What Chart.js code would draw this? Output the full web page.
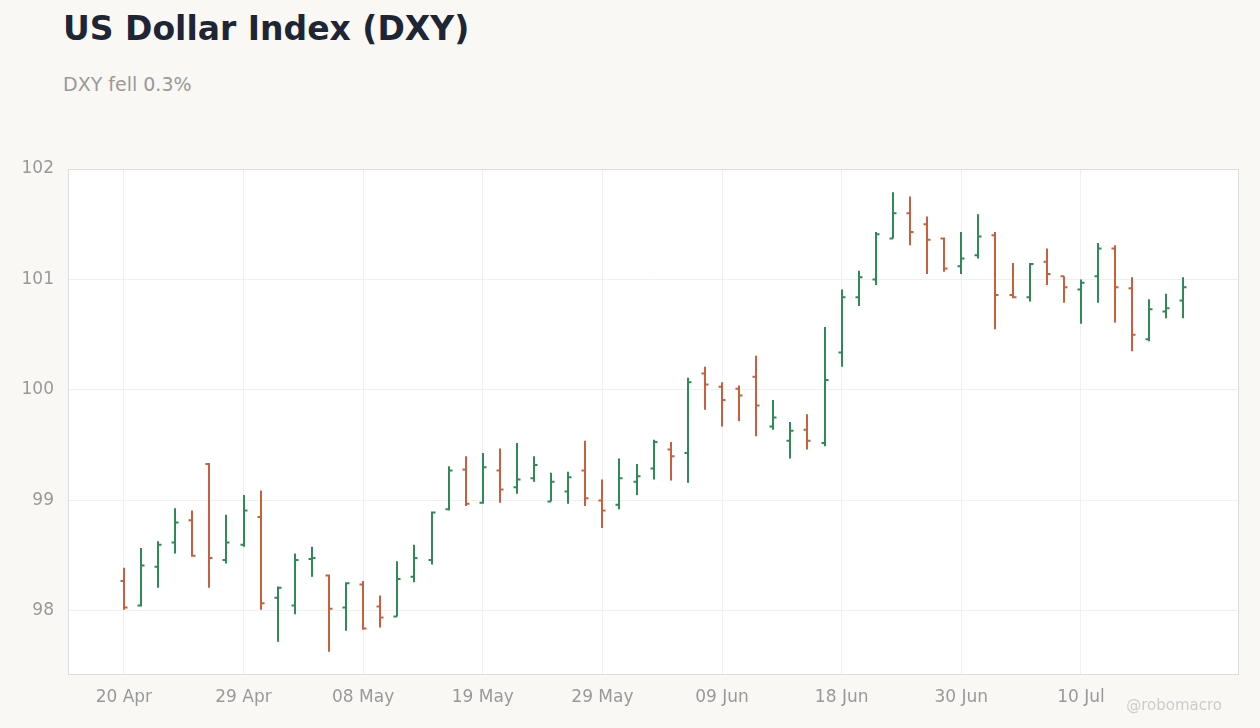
<!DOCTYPE html>
<html><head><meta charset="utf-8">
<script src="https://cdn.jsdelivr.net/npm/chart.js@4"></script>
<style>
body{margin:0;background:#f9f8f5;font-family:"DejaVu Sans",sans-serif;}
#t{position:absolute;left:63px;top:9px;font-size:33px;font-weight:bold;color:#1e2535;}
#s{position:absolute;left:63px;top:73px;font-size:19px;color:#999;}
#w{position:absolute;right:38px;top:696px;font-size:15px;color:#ccc;}
canvas{position:absolute;left:0;top:0;}
</style></head><body>
<div id="t">US Dollar Index (DXY)</div>
<div id="s">DXY fell 0.3%</div>
<canvas id="c" width="1260" height="728"></canvas>
<div id="w">@robomacro</div>
<script>
const opens=[98.27,98.05,98.40,98.62,98.82,99.33,98.46,98.60,98.85,98.12,98.05,98.47,98.32,98.03,98.24,98.04,97.95,98.31,98.46,98.92,99.28,98.98,99.27,99.12,99.20,98.99,99.08,99.27,99.00,98.96,99.17,99.29,99.46,99.43,100.15,100.03,100.01,100.12,99.67,99.54,99.64,99.52,100.34,100.84,101.00,101.37,101.60,101.50,101.37,101.12,101.22,101.40,100.86,100.84,101.16,101.03,100.91,101.03,101.28,100.92,100.46,100.71,100.81];
const highs=[98.39,98.57,98.63,98.93,98.91,99.34,98.87,99.05,99.09,98.22,98.52,98.58,98.33,98.26,98.27,98.14,98.45,98.60,98.90,99.31,99.40,99.43,99.47,99.52,99.40,99.25,99.26,99.54,99.19,99.38,99.33,99.55,99.53,100.11,100.21,100.07,100.04,100.31,99.91,99.71,99.78,100.57,100.91,101.08,101.43,101.79,101.75,101.57,101.38,101.43,101.59,101.43,101.15,101.15,101.28,101.03,101.00,101.33,101.31,101.02,100.82,100.87,101.02];
const lows=[98.01,98.04,98.21,98.52,98.49,98.21,98.43,98.58,98.01,97.72,97.97,98.31,97.63,97.82,97.83,97.85,97.95,98.26,98.42,98.91,98.95,98.97,98.98,99.06,99.17,98.99,98.97,98.95,98.75,98.92,99.05,99.19,99.18,99.16,99.82,99.67,99.72,99.58,99.64,99.38,99.46,99.49,100.21,100.76,100.95,101.37,101.31,101.05,101.07,101.05,101.19,100.55,100.83,100.80,100.95,100.79,100.60,100.79,100.61,100.35,100.44,100.65,100.65];
const closes=[98.03,98.41,98.60,98.80,98.50,98.48,98.62,98.91,98.07,98.21,98.46,98.48,98.02,98.25,97.84,97.94,98.29,98.48,98.89,99.27,98.97,99.30,99.10,99.19,99.32,99.17,99.21,99.02,98.91,99.20,99.22,99.53,99.40,100.07,100.05,99.91,99.95,99.86,99.75,99.63,99.54,100.09,100.84,101.02,101.41,101.60,101.43,101.36,101.10,101.19,101.39,100.86,100.84,101.14,101.05,100.93,100.97,101.28,100.93,100.50,100.73,100.74,100.93];
const tickIdx=[0,7,14,21,28,35,42,49,56];
const tickLabels=["20 Apr","29 Apr","08 May","19 May","29 May","09 Jun","18 Jun","30 Jun","10 Jul"];
const yTicks=[98,99,100,101,102];
const UP='#2f8a55', DN='#c8603e';
const ohlc={id:'ohlc',
 beforeDraw(c){const a=c.chartArea,x=c.ctx;x.save();x.fillStyle='#fff';x.fillRect(a.left,a.top,a.width,a.height);x.restore();},
 afterDatasetsDraw(c){const x=c.ctx,xs=c.scales.x,ys=c.scales.y,a=c.chartArea;x.save();
  x.lineWidth=2;
  for(let i=0;i<opens.length;i++){const px=Math.round(xs.getPixelForValue(i));x.strokeStyle=closes[i]>=opens[i]?UP:DN;
   x.beginPath();x.moveTo(px,ys.getPixelForValue(highs[i]));x.lineTo(px,ys.getPixelForValue(lows[i]));
   const yo=ys.getPixelForValue(opens[i]),yc=ys.getPixelForValue(closes[i]);
   x.moveTo(px-3.5,yo);x.lineTo(px,yo);x.moveTo(px,yc);x.lineTo(px+3.5,yc);x.stroke();}
  x.strokeStyle='#ddd';x.lineWidth=1;x.strokeRect(a.left+0.5,a.top+0.5,a.width-1,a.height-1);x.restore();}};
new Chart(document.getElementById('c'),{type:'line',
 data:{datasets:[{data:closes.map((v,i)=>({x:i,y:v})),showLine:false,pointRadius:0}]},
 options:{responsive:false,animation:false,events:[],
  layout:{padding:{top:169,right:21,left:0,bottom:0}},
  plugins:{legend:{display:false},tooltip:{enabled:false}},
  scales:{
   x:{type:'linear',min:-3.27,max:65.25,afterFit(s){s.height=53;},
    afterBuildTicks(s){s.ticks=tickIdx.map(v=>({value:v}));},
    ticks:{color:'#999',font:{size:17,family:'DejaVu Sans'},padding:12,autoSkip:false,maxRotation:0,callback:(v)=>tickLabels[tickIdx.indexOf(v)]},
    grid:{color:'#f0f0f0',drawTicks:false},border:{display:false}},
   y:{min:97.42,max:102,afterFit(s){s.width=68;},
    afterBuildTicks(s){s.ticks=yTicks.map(v=>({value:v}));},
    ticks:{color:'#999',font:{size:17,family:'DejaVu Sans'},padding:14,callback:v=>String(v)},
    grid:{color:'#f0f0f0',drawTicks:false},border:{display:false}}}},
 plugins:[ohlc]});
</script></body></html>
